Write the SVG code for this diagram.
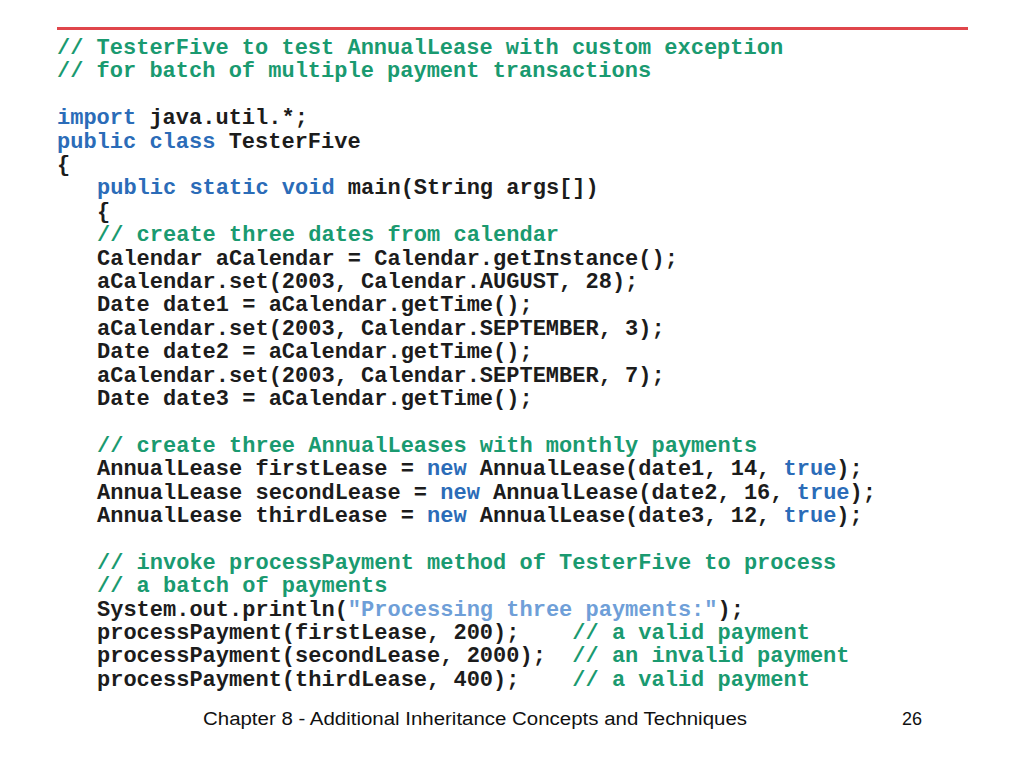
<svg xmlns="http://www.w3.org/2000/svg" width="1024" height="768" viewBox="0 0 1024 768">
<style>
.c{font-family:"Liberation Mono","Courier New",monospace;font-size:22px;font-weight:bold;fill:#1c1c1c;white-space:pre}
.k{fill:#2b6cb8}
.g{fill:#1a9a70}
.s{fill:#6f9fd8}
.f{font-family:"Liberation Sans",Arial,sans-serif;font-size:18px;fill:#111}
</style>
<rect width="1024" height="768" fill="#ffffff"/>
<line x1="57" y1="28.5" x2="968" y2="28.5" stroke="#e0464b" stroke-width="3"/>
<g id="code" xml:space="preserve">
<text class="c g" x="57" y="54">// TesterFive to test AnnualLease with custom exception</text>
<text class="c g" x="57" y="77.4">// for batch of multiple payment transactions</text>
<text class="c" x="57" y="124.2"><tspan class="k">import</tspan> java.util.*;</text>
<text class="c" x="57" y="147.6"><tspan class="k">public class</tspan> TesterFive</text>
<text class="c" x="57" y="171">{</text>
<text class="c" x="97" y="194.4"><tspan class="k">public static void</tspan> main(String args[])</text>
<text class="c" x="97" y="217.8">{</text>
<text class="c g" x="97" y="241.2">// create three dates from calendar</text>
<text class="c" x="97" y="264.6">Calendar aCalendar = Calendar.getInstance();</text>
<text class="c" x="97" y="288">aCalendar.set(2003, Calendar.AUGUST, 28);</text>
<text class="c" x="97" y="311.4">Date date1 = aCalendar.getTime();</text>
<text class="c" x="97" y="334.8">aCalendar.set(2003, Calendar.SEPTEMBER, 3);</text>
<text class="c" x="97" y="358.2">Date date2 = aCalendar.getTime();</text>
<text class="c" x="97" y="381.6">aCalendar.set(2003, Calendar.SEPTEMBER, 7);</text>
<text class="c" x="97" y="405">Date date3 = aCalendar.getTime();</text>
<text class="c g" x="97" y="451.8">// create three AnnualLeases with monthly payments</text>
<text class="c" x="97" y="475.2">AnnualLease firstLease = <tspan class="k">new</tspan> AnnualLease(date1, 14, <tspan class="k">true</tspan>);</text>
<text class="c" x="97" y="498.6">AnnualLease secondLease = <tspan class="k">new</tspan> AnnualLease(date2, 16, <tspan class="k">true</tspan>);</text>
<text class="c" x="97" y="522">AnnualLease thirdLease = <tspan class="k">new</tspan> AnnualLease(date3, 12, <tspan class="k">true</tspan>);</text>
<text class="c g" x="97" y="568.8">// invoke processPayment method of TesterFive to process</text>
<text class="c g" x="97" y="592.2">// a batch of payments</text>
<text class="c" x="97" y="615.6">System.out.println(<tspan class="s">"Processing three payments:"</tspan>);</text>
<text class="c" x="97" y="639">processPayment(firstLease, 200);    <tspan class="g">// a valid payment</tspan></text>
<text class="c" x="97" y="662.4">processPayment(secondLease, 2000);  <tspan class="g">// an invalid payment</tspan></text>
<text class="c" x="97" y="685.8">processPayment(thirdLease, 400);    <tspan class="g">// a valid payment</tspan></text>
</g>
<g id="footer">
<text class="f" x="203" y="725" textLength="544" lengthAdjust="spacingAndGlyphs">Chapter 8 - Additional Inheritance Concepts and Techniques</text>
<text class="f" x="902" y="725">26</text>
</g>
</svg>
